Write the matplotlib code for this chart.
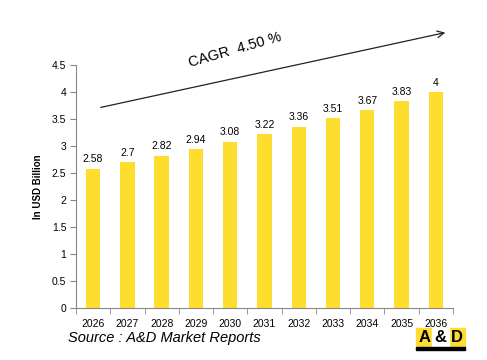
import matplotlib.pyplot as plt
from matplotlib.patches import Rectangle, FancyArrowPatch

years = ['2026', '2027', '2028', '2029', '2030', '2031', '2032', '2033', '2034', '2035', '2036']
values = [2.58, 2.7, 2.82, 2.94, 3.08, 3.22, 3.36, 3.51, 3.67, 3.83, 4]
yticks = [0, 0.5, 1, 1.5, 2, 2.5, 3, 3.5, 4, 4.5]

plt.rcParams['font.family'] = ['Liberation Sans', 'DejaVu Sans']

fig = plt.figure(figsize=(4.87, 3.6), dpi=100)
ax = fig.add_axes([0.156, 0.1444, 0.774, 0.675])

x = range(len(years))
ax.bar(x, values, width=0.42, color='#FFDD2E')
for i, v in zip(x, values):
    ax.text(i, v + 0.08, f'{v:g}', ha='center', va='bottom', fontsize=7.5)

ax.set_xlim(-0.5, len(years) - 0.5)
ax.set_ylim(0, 4.5)
ax.set_yticks(yticks)
ax.set_yticklabels([f'{t:g}' for t in yticks], fontsize=7.5)
ax.set_xticks(x)
ax.set_xticklabels(years, fontsize=7.5)
ax.set_xticks([i - 0.5 for i in range(len(years) + 1)], minor=True)
ax.tick_params(axis='x', which='major', length=0, pad=8)
ax.tick_params(axis='x', which='minor', length=4, color='#888888')
ax.tick_params(axis='y', length=4, color='#888888', pad=3)
for s in ['top', 'right']:
    ax.spines[s].set_visible(False)
for s in ['left', 'bottom']:
    ax.spines[s].set_color('#888888')
ax.set_ylabel('In USD Billion', fontsize=7, fontweight='bold', labelpad=6)

# CAGR arrow
fig.patches.append(FancyArrowPatch(
    (98 / 487, 1 - 108 / 360), (448 / 487, 1 - 32 / 360),
    transform=fig.transFigure, arrowstyle='->', mutation_scale=12,
    color='#222222', lw=0.9))
fig.text(235 / 487, 1 - 50 / 360, 'CAGR  4.50 %', fontsize=10.5, rotation=16,
         ha='center', va='center')

fig.text(68 / 487, 1 - 338 / 360, 'Source : A&D Market Reports', fontsize=10.5,
         style='italic', ha='left', va='center')

# logo
lx, ly, lw, lh = 416 / 487, 1 - 350 / 360, 49 / 487, 22 / 360
fig.patches.append(Rectangle((lx, ly + 3 / 360), lw, lh - 3 / 360, transform=fig.transFigure,
                             color='#FFDD2E'))
fig.patches.append(Rectangle((lx + lw / 3, ly + 3 / 360), lw / 3, lh - 3 / 360,
                             transform=fig.transFigure, color='white'))
fig.patches.append(Rectangle((lx, ly), lw, 3 / 360, transform=fig.transFigure, color='black'))
for k, ch in enumerate(['A', '&', 'D']):
    fig.text(lx + lw * (k + 0.5) / 3, ly + 13 / 360, ch, fontsize=12, fontweight='bold',
             ha='center', va='center', color='black')

fig.savefig('out.png', dpi=100)
